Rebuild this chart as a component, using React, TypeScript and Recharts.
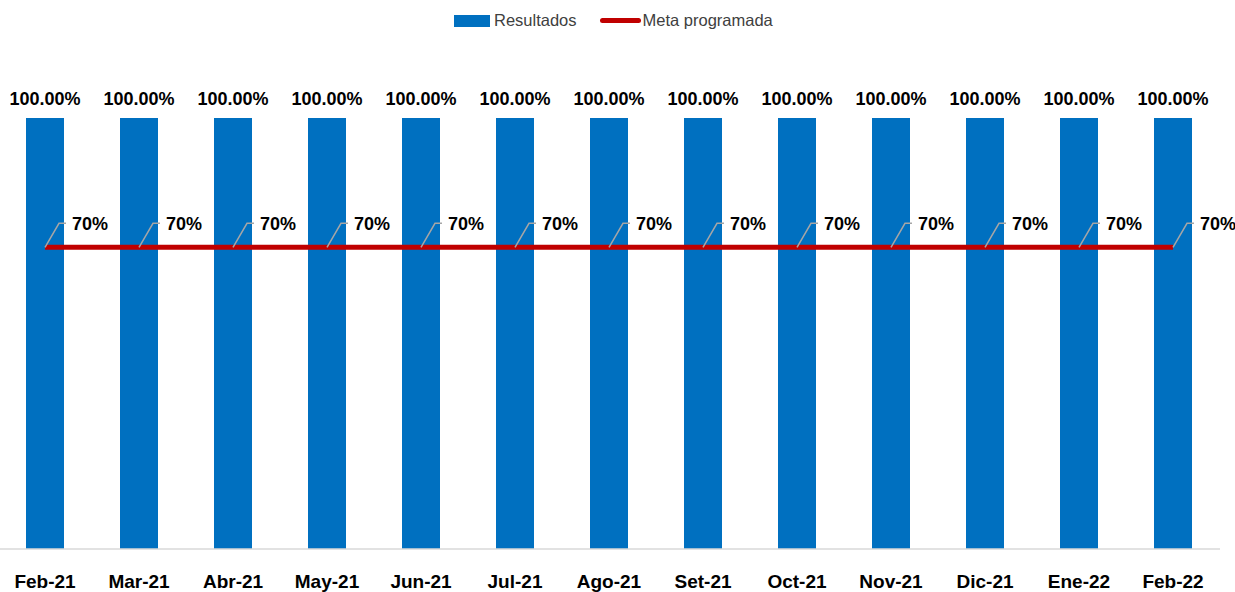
import { ComposedChart, Bar, Line, XAxis, YAxis, LabelList } from "recharts";

const months = [
  "Feb-21", "Mar-21", "Abr-21", "May-21", "Jun-21", "Jul-21", "Ago-21",
  "Set-21", "Oct-21", "Nov-21", "Dic-21", "Ene-22", "Feb-22",
];
const resultados = [1, 1, 1, 1, 1, 1, 1, 1, 1, 1, 1, 1, 1];
const meta = [0.7, 0.7, 0.7, 0.7, 0.7, 0.7, 0.7, 0.7, 0.7, 0.7, 0.7, 0.7, 0.7];

const data = months.map((m, i) => ({ month: m, resultados: resultados[i], meta: meta[i] }));

const FONT = "'Liberation Sans', Arial, sans-serif";
const BLUE = "#0070C0";
const RED = "#C00000";

function MetaLabel(props: any) {
  const { x, y, value } = props;
  if (x == null || y == null) return null;
  return (
    <g>
      <polyline
        points={`${x},${y} ${x + 14},${y - 24} ${x + 21},${y - 24}`}
        fill="none"
        stroke="#A6A6A6"
        strokeWidth={1.5}
      />
      <text x={x + 27} y={y - 17} fontSize={18} fontWeight="bold" fill="#000" fontFamily={FONT}>
        {Math.round(value * 100)}%
      </text>
    </g>
  );
}

export default function App() {
  return (
    <div style={{ position: "absolute", left: 0, top: 0, width: 1235, height: 592, background: "#fff", fontFamily: FONT }}>
      <div style={{ position: "absolute", top: 11, left: 454, display: "flex", alignItems: "center", fontSize: 16.5, color: "#404040" }}>
        <span style={{ display: "inline-block", width: 36, height: 12, background: BLUE, marginRight: 4 }} />
        <span>Resultados</span>
        <span style={{ display: "inline-block", width: 41, height: 5, borderRadius: 3, background: RED, marginLeft: 23, marginRight: 2 }} />
        <span>Meta programada</span>
      </div>
      <ComposedChart
        width={1235}
        height={592}
        data={data}
        margin={{ top: 118, right: 15, bottom: 3, left: -2 }}
      >
        <XAxis
          dataKey="month"
          axisLine={{ stroke: "#D9D9D9", strokeWidth: 1.5 }}
          tickLine={false}
          tickMargin={20}
          height={40}
          interval={0}
          tick={{ fontSize: 19, fontWeight: "bold", fill: "#000", fontFamily: FONT }}
        />
        <YAxis hide domain={[0, 1]} />
        <Bar dataKey="resultados" fill={BLUE} barSize={38} isAnimationActive={false}>
          <LabelList
            dataKey="resultados"
            position="top"
            offset={13}
            formatter={(v: any) => `${(v * 100).toFixed(2)}%`}
            style={{ fontSize: 18, fontWeight: "bold", fill: "#000", fontFamily: FONT }}
          />
        </Bar>
        <Line
          dataKey="meta"
          stroke={RED}
          strokeWidth={5}
          dot={false}
          activeDot={false}
          isAnimationActive={false}
        >
          <LabelList dataKey="meta" content={<MetaLabel />} />
        </Line>
      </ComposedChart>
    </div>
  );
}
